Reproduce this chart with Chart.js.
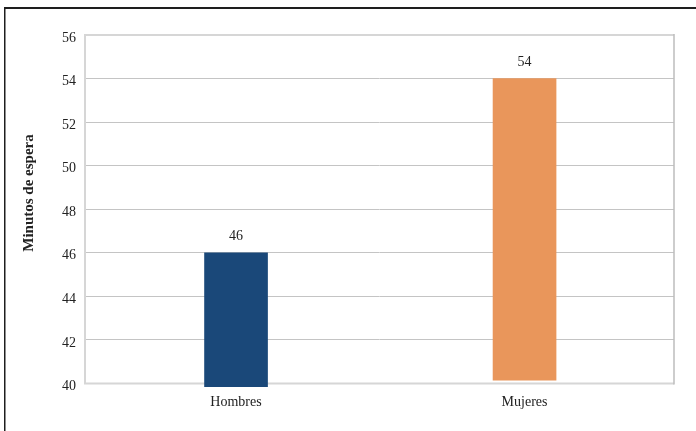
<!DOCTYPE html>
<html>
<head>
<meta charset="utf-8">
<script src="https://cdn.jsdelivr.net/npm/chart.js@4"></script>
<style>
  html, body { margin: 0; padding: 0; background: #fff; }
  #wrap { width: 696px; height: 431px; position: relative; }
</style>
</head>
<body>
<div id="wrap"><canvas id="c" width="696" height="431"></canvas></div>
<script>
// Average waiting time by sex
const categories = ['Hombres', 'Mujeres'];
const waitMinutes = [46, 54];
const barBase = [39.85, 40.15];
const barColors = ['#1a4879', '#e9965b'];
const yTickValues = [40, 42, 44, 46, 48, 50, 52, 54, 56];
const axisTitle = 'Minutos de espera';

const FONT = '"Liberation Serif", "DejaVu Serif", serif';
const TEXT = '#222222';

// Outer frame (top and left rules)
const framePlugin = {
  id: 'frame',
  beforeDraw(chart) {
    const ctx = chart.ctx;
    ctx.save();
    ctx.fillStyle = '#1e1e1e';
    ctx.fillRect(4, 7, 692, 2);
    ctx.fillRect(4, 7, 1.5, 424);
    ctx.restore();
  }
};

// Plot area outline, drawn under the bars
const plotBoxPlugin = {
  id: 'plotBox',
  beforeDatasetsDraw(chart) {
    const { ctx, chartArea: a } = chart;
    ctx.save();
    ctx.strokeStyle = '#d6d6d6';
    ctx.lineWidth = 2;
    ctx.beginPath();
    ctx.moveTo(a.right, a.top);
    ctx.lineTo(a.left, a.top);
    ctx.lineTo(a.left, a.bottom);
    ctx.lineTo(a.right, a.bottom);
    ctx.stroke();
    ctx.strokeStyle = '#bdbdbd';
    ctx.lineWidth = 1.5;
    ctx.beginPath();
    ctx.moveTo(a.right, a.top - 1);
    ctx.lineTo(a.right, a.bottom + 1);
    ctx.stroke();
    ctx.restore();
  }
};

// Value labels above each bar and the rotated axis title
const labelsPlugin = {
  id: 'valueLabels',
  afterDatasetsDraw(chart) {
    const ctx = chart.ctx;
    const meta = chart.getDatasetMeta(0);
    ctx.save();
    ctx.fillStyle = TEXT;
    ctx.font = '14px ' + FONT;
    ctx.textAlign = 'center';
    ctx.textBaseline = 'alphabetic';
    meta.data.forEach((bar, i) => {
      ctx.fillText(String(waitMinutes[i]), bar.x, bar.y - 13);
    });
    ctx.translate(29, 193);
    ctx.rotate(-Math.PI / 2);
    ctx.font = 'bold 15px ' + FONT;
    ctx.textBaseline = 'middle';
    ctx.fillText(axisTitle, 0, 0);
    ctx.restore();
  }
};

new Chart(document.getElementById('c'), {
  type: 'bar',
  data: {
    datasets: [{
      data: waitMinutes.map((v, i) => ({ x: i, y: [barBase[i], v] })),
      backgroundColor: barColors,
      borderWidth: 0,
      barThickness: 63,
      clip: false
    }]
  },
  options: {
    responsive: false,
    animation: false,
    devicePixelRatio: 1,
    layout: { padding: { top: 35, right: 22, left: 0, bottom: 0 } },
    plugins: {
      legend: { display: false },
      tooltip: { enabled: false },
      title: { display: false }
    },
    scales: {
      x: {
        type: 'linear',
        min: -0.5235,
        max: 1.518,
        offset: false,
        afterBuildTicks(s) { s.ticks = categories.map((_, i) => ({ value: i })); },
        grid: { display: false, drawTicks: false },
        border: { display: false },
        ticks: {
          color: TEXT,
          font: { family: FONT, size: 14 },
          padding: 10,
          callback: (v) => categories[v]
        },
        afterFit(s) { s.height = 47.5; }
      },
      y: {
        min: yTickValues[0],
        max: yTickValues[yTickValues.length - 1],
        afterBuildTicks(s) { s.ticks = yTickValues.map(v => ({ value: v })); },
        grid: { color: '#c4c4c4', lineWidth: 1, drawTicks: false },
        border: { display: false },
        ticks: { color: TEXT, font: { family: FONT, size: 14 }, padding: 9, labelOffset: 3 },
        afterFit(s) { s.width = 85; }
      }
    }
  },
  plugins: [framePlugin, plotBoxPlugin, labelsPlugin]
});
</script>
</body>
</html>
